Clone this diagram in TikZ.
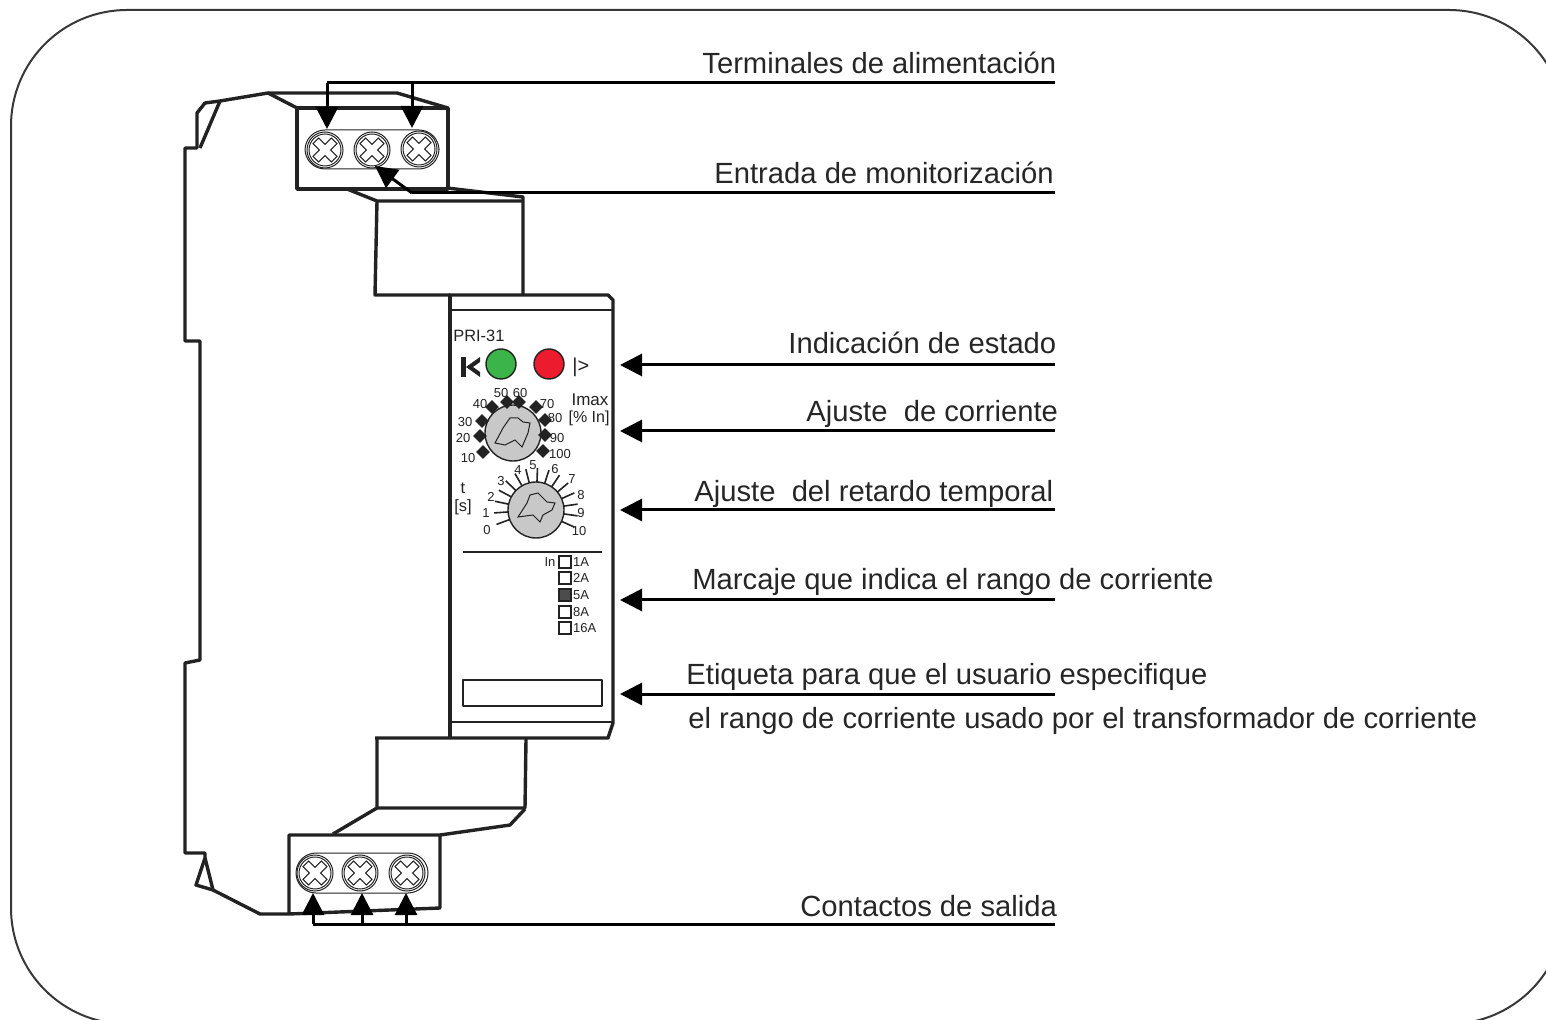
\documentclass[tikz,border=0pt]{standalone}
\usepackage{fontspec}
\setmainfont{Liberation Sans}
\usetikzlibrary{arrows.meta,shapes.geometric,calc}

\definecolor{ledgreen}{HTML}{3BB54A}
\definecolor{ledred}{HTML}{EC1C2E}
\definecolor{knobgray}{HTML}{C8C8C8}
\definecolor{inkgray}{HTML}{222222}

\begin{document}
\begin{tikzpicture}[
    x=0.5pt, y=-0.5pt,
    body/.style={draw=inkgray, line width=1.7pt, line join=round},
    thinline/.style={draw=inkgray, line width=0.5pt},
    arrow/.style={-{Triangle[length=11pt,width=11pt]}, draw=black, line width=1.5pt},
    leader/.style={draw=black, line width=1.5pt},
    lbl/.style={inner sep=0pt, anchor=base west, font=\fontsize{14.6}{16}\selectfont, text=black!85},
    tick/.style={inner sep=0pt, font=\fontsize{6.5}{7}\selectfont, text=inkgray},
    panel/.style={inner sep=0pt, font=\fontsize{8.2}{9}\selectfont, text=inkgray},
    mark dot/.style={diamond, fill=inkgray, inner sep=0pt, minimum size=7pt},
    led/.style={circle, draw=inkgray, line width=0.7pt, inner sep=0pt, minimum size=15pt},
    knob/.style={circle, draw=inkgray, line width=0.7pt, fill=knobgray, inner sep=0pt, minimum size=28pt},
    checkbox/.style={draw=inkgray, line width=0.7pt, inner sep=0pt, minimum size=6pt},
    screwhead/.pic={
        \draw[thinline] (0,0) circle (9pt);
        \draw[thinline] (0,0) circle (8pt);
        \draw[thinline, rotate=45] (-13,-4) -- (-4,-4) -- (-4,-13) -- (4,-13) -- (4,-4) -- (13,-4)
            -- (13,4) -- (4,4) -- (4,13) -- (-4,13) -- (-4,4) -- (-13,4) -- cycle;
    }
]
\useasboundingbox (0,0) rectangle (1546,1020);
\clip (0,0) rectangle (1546,1020);

% Frame
\draw[draw=inkgray!90, line width=1pt, rounded corners=58pt] (11,10) rectangle (1565,1024);

% Housing
\draw[body] (297,108) -- (268,93) -- (220,101) -- (205,103) -- (197,113) -- (197,148) -- (185,148)
    -- (185,341) -- (200,341) -- (200,660) -- (185,663) -- (185,853) -- (205,853) -- (205,858)
    -- (196,885) -- (213,890) -- (260,914) -- (289,914);
\draw[body] (220,101) -- (200,148);
\draw[body] (205,858) -- (213,890);
\draw[body] (268,93) -- (397,93) -- (448,108);

% Top terminals
\draw[body] (297,108) rectangle (448,189);
\draw[thinline, rounded corners=10pt] (305,130) rectangle (439,169);
\pic at (325,150) {screwhead};
\pic at (372,150) {screwhead};
\pic at (419,149) {screwhead};
\draw[body] (347,189) -- (377,201) -- (523,201);
\draw[body] (447,188) -- (523,197) -- (523,295);
\draw[body] (377,201) -- (375,295) -- (450,295);

% Front panel
\draw[body] (449,295) -- (608,295) -- (613,300) -- (613,723) -- (608,738) -- (375,738);
\draw[body] (450,295) -- (450,738);
\draw[body, line width=1pt] (449,310) -- (613,310);
\draw[body, line width=1pt] (450,722) -- (613,722);
\draw[body, line width=1pt] (463,552) -- (602,552);
\draw[body, line width=1pt] (463,680) rectangle (602,706);

% Bottom terminals
\draw[body] (377,739) -- (377,808) -- (525,808) -- (526,739);
\draw[body] (377,808) -- (333,834);
\draw[body] (525,809) -- (510,825) -- (440,835);
\draw[body] (289,914) -- (289,835) -- (440,835) -- (440,908) -- (289,914);
\draw[thinline, rounded corners=10pt] (296,853) rectangle (428,893);
\pic at (315,873) {screwhead};
\pic at (360,873) {screwhead};
\pic at (407,873) {screwhead};

% Panel
\node[panel, anchor=west] (model) at (453,336) {PRI-31};
\fill[inkgray] (461,357) rectangle (466,377);
\fill[inkgray] (466,367) -- (480,357) -- (480,362) -- (473,367) -- (480,372) -- (480,377) -- cycle;
\node[led, fill=ledgreen] (green) at (501,364) {};
\node[led, fill=ledred] (red) at (549,364) {};
\node[panel, anchor=west, font=\fontsize{10}{11}\selectfont] (over) at (572,367) {|>};

% Current knob
\node[knob] (curknob) at (513,433) {};
\draw[thinline] (495,443) -- (503,428) -- (510,418) -- (518,418) -- (523,422) -- (530,423)
    -- (528,433) -- (522,447) -- (515,440) -- (505,445) -- cycle;
\foreach \val/\mx/\my/\lx/\ly in {10/483/452/468/458, 20/480/436/463/438, 30/482/421/465/422,
    40/492/407/480/404, 50/507/402/501/393, 60/519/402/520/393, 70/536/407/547/404,
    80/545/420/555/418, 90/545/435/557/438, 100/543/451/560/454} {
    \node[mark dot] (curmark\val) at (\mx,\my) {};
    \node[tick] (curtick\val) at (\lx,\ly) {\val};
}
\node[panel, font=\fontsize{8.5}{9}\selectfont] (imax) at (590,400) {Imax};
\node[panel, font=\fontsize{8}{9}\selectfont] (inpct) at (589,418) {[\% In]};

% Delay knob
\foreach \ang in {160,176,...,384} {
    \draw[thinline, line width=0.8pt] (536,510) ++(\ang:27) -- ++(\ang:15);
}
\node[knob] (delknob) at (536,510) {};
\draw[thinline] (518,517) -- (527,503) -- (530,495) -- (538,493) -- (547,502) -- (555,503)
    -- (552,510) -- (543,515) -- (540,522) -- (533,515) -- cycle;
\foreach \val/\lx/\ly in {0/487/530, 1/486/513, 2/491/497, 3/501/481, 4/518/470, 5/533/465,
    6/555/469, 7/572/479, 8/581/495, 9/581/513, 10/579/531} {
    \node[tick] (deltick\val) at (\lx,\ly) {\val};
}
\node[panel] (tlabel) at (463,488) {t};
\node[panel] (slabel) at (463,507) {[s]};

% Range marks
\node[tick] (inlabel) at (550,562) {In};
\node[checkbox] (box1) at (565,562) {};
\node[checkbox] (box2) at (565,578) {};
\node[checkbox, fill=black!70] (box5) at (565,595) {};
\node[checkbox] (box8) at (565,612) {};
\node[checkbox] (box16) at (565,628) {};
\foreach \val in {1,2,5,8,16} {
    \node[tick, right=0.5pt] (txt\val) at (box\val.east) {\val A};
}

% Labels
\node[lbl] (term) at (702,74) {Terminales de alimentación};
\node[lbl] (input) at (714,184) {Entrada de monitorización};
\node[lbl] (status) at (788,354) {Indicación de estado};
\node[lbl] (current) at (806,422) {Ajuste\ \ de corriente};
\node[lbl] (delay) at (694,502) {Ajuste\ \ del retardo temporal};
\node[lbl] (range) at (692,590) {Marcaje que indica el rango de corriente};
\node[lbl] (tag) at (686,684) {Etiqueta para que el usuario especifique};
\node[lbl] (tagb) at (688,728) {el rango de corriente usado por el transformador de corriente};
\node[lbl] (output) at (800,916) {Contactos de salida};

% Leader ends
\coordinate (termEnd) at (1055,83);
\coordinate (termA) at (327,83);
\coordinate (termB) at (412,83);
\coordinate (screwA) at (327,129);
\coordinate (screwB) at (412,128);
\coordinate (inputEnd) at (1055,193);
\coordinate (inputBend) at (412,193);
\coordinate (screwC) at (375,166);
\coordinate (outEnd) at (1055,924);
\coordinate (outA) at (313,924);
\coordinate (outB) at (362,924);
\coordinate (outC) at (406,924);
\coordinate (screwD) at (313,893);
\coordinate (screwE) at (362,893);
\coordinate (screwF) at (406,893);

% Arrows
\draw[leader] (termEnd) -- (termA);
\draw[arrow] (termA) -- (screwA);
\draw[arrow] (termB) -- (screwB);
\draw[leader] (inputEnd) -- (inputBend);
\draw[arrow] (inputBend) -- (screwC);
\foreach \name/\yy in {status/365, current/431, delay/510, range/600, tag/694} {
    \coordinate (\name End) at (1055,\yy);
    \coordinate (\name Tip) at (620,\yy);
    \draw[arrow] (\name End) -- (\name Tip);
}
\draw[leader] (outEnd) -- (outA);
\draw[arrow] (outA) -- (screwD);
\draw[arrow] (outB) -- (screwE);
\draw[arrow] (outC) -- (screwF);

\end{tikzpicture}
\end{document}
